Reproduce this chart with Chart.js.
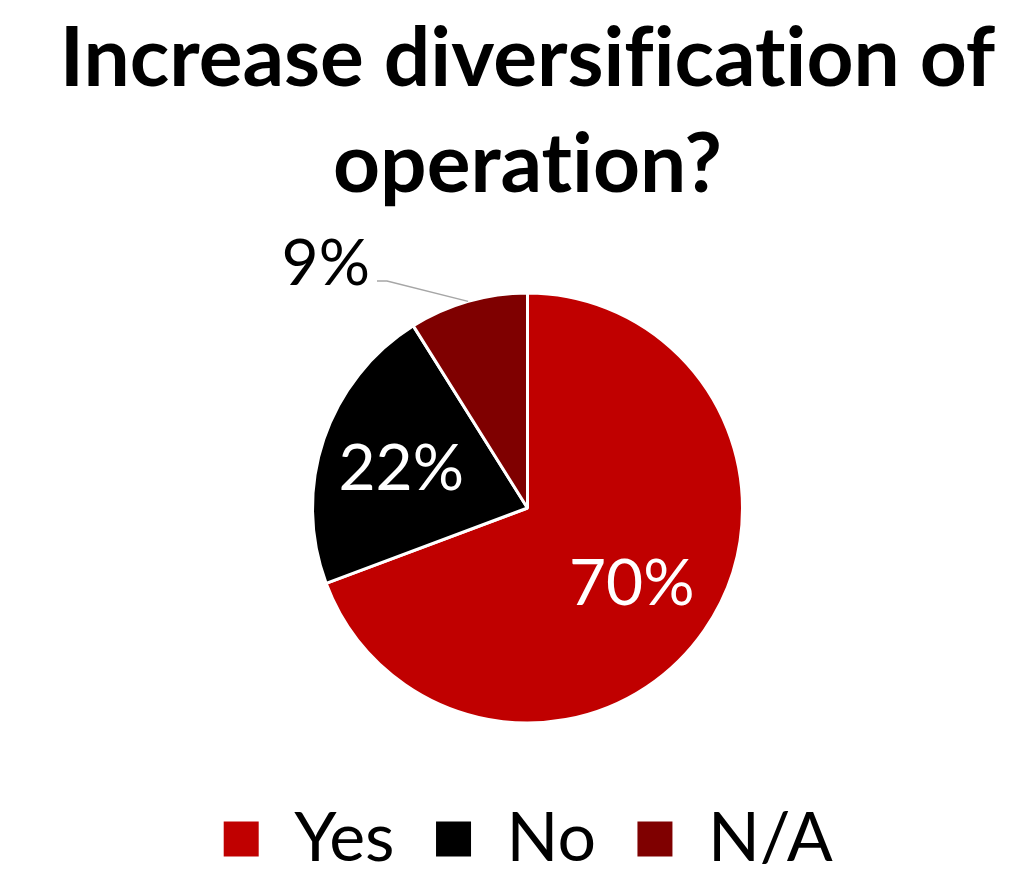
<!DOCTYPE html>
<html>
<head>
<meta charset="utf-8">
<script src="https://cdn.jsdelivr.net/npm/chart.js@4"></script>
<style>
  html, body { margin: 0; padding: 0; background: #fff; }
  #wrap { width: 1009px; height: 873px; }
</style>
</head>
<body>
<div id="wrap"><canvas id="chart"></canvas></div>
<script>
const antworten = ["Yes", "No", "N/A"];
const anteile = [70, 22, 9];
const farben = ["#C00000", "#000000", "#7F0000"];
const titelZeilen = ["Increase diversification of", "operation?"];

const schrift = "Lato, 'Open Sans', sans-serif";

// keine "ti"-Ligatur im Titel
const ohneLigaturen = {
  id: "ohneLigaturen",
  beforeDraw(chart) {
    chart.ctx.textRendering = "optimizeSpeed";
  }
};

// Prozentwerte in die Segmente schreiben, das kleine Segment bekommt eine Führungslinie
const prozentLabels = {
  id: "prozentLabels",
  afterDatasetsDraw(chart) {
    const ctx = chart.ctx;
    const meta = chart.getDatasetMeta(0);
    ctx.save();
    ctx.font = "64px " + schrift;
    ctx.textBaseline = "middle";
    meta.data.forEach((arc, i) => {
      const p = arc.getProps(["x", "y", "startAngle", "endAngle", "outerRadius"], true);
      const mitte = (p.startAngle + p.endAngle) / 2;
      const r = p.outerRadius;
      const text = anteile[i] + "%";
      if (i < 2) {
        const f = i === 0 ? 0.59 : 0.62;
        ctx.fillStyle = "#fff";
        ctx.textAlign = "center";
        ctx.fillText(text, p.x + Math.cos(mitte) * r * f, p.y + Math.sin(mitte) * r * f + 4);
      } else {
        const ax = p.x + Math.cos(mitte) * r;
        const ay = p.y + Math.sin(mitte) * r;
        const lx = p.x - r * 0.70;
        const ly = p.y - r * 1.056;
        ctx.strokeStyle = "#A6A6A6";
        ctx.lineWidth = 1.5;
        ctx.beginPath();
        ctx.moveTo(ax, ay);
        ctx.lineTo(lx + 10, ly);
        ctx.lineTo(lx, ly);
        ctx.stroke();
        ctx.fillStyle = "#000";
        ctx.textAlign = "right";
        ctx.fillText(text, lx - 7, ly - 17);
      }
    });
    ctx.restore();
  }
};

new Chart(document.getElementById("chart"), {
  type: "pie",
  data: {
    labels: antworten,
    datasets: [{
      data: anteile,
      backgroundColor: farben,
      borderColor: "#fff",
      borderWidth: 3,
      radius: 215
    }]
  },
  options: {
    responsive: true,
    maintainAspectRatio: false,
    animation: false,
    layout: { padding: { top: 0, bottom: -10, left: 46, right: 0 } },
    plugins: {
      title: {
        display: true,
        text: titelZeilen,
        color: "#000",
        font: { family: schrift, size: 82, weight: "bold", lineHeight: 1.293 },
        padding: { top: 7, bottom: 32 }
      },
      legend: {
        position: "bottom",
        labels: {
          color: "#000",
          font: { family: schrift, size: 68 },
          boxWidth: 38,
          boxHeight: 38,
          padding: 40
        }
      },
      tooltip: { enabled: false }
    }
  },
  plugins: [ohneLigaturen, prozentLabels]
});
</script>
</body>
</html>
